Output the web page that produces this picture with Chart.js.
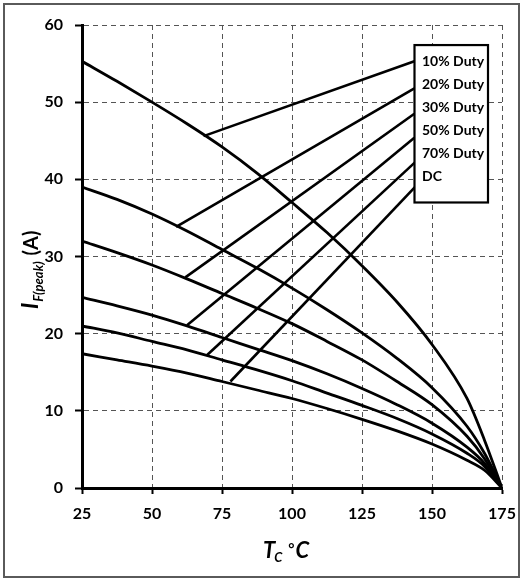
<!DOCTYPE html>
<html>
<head>
<meta charset="utf-8">
<script src="https://cdn.jsdelivr.net/npm/chart.js@4/dist/chart.umd.min.js"></script>
<style>
    html, body { margin: 0; padding: 0; background: #fff; }
    #wrap { width: 529px; height: 581px; position: relative; }
</style>
</head>
<body>
<div id="wrap"><canvas id="chart"></canvas></div>
<script>
// Case temperature (deg C) where the curves were read
const tempC = [25, 37.5, 50, 62.5, 75, 87.5, 100, 112.5, 125, 137.5, 150, 162.5, 168.75, 175];

// Peak forward current (A) per duty cycle
const duty10 = [55.3, 52.7, 50.0, 47.2, 44.2, 40.8, 37.0, 33.1, 28.8, 24.1, 18.6, 11.6, 6.2, 0];
const duty20 = [39.0, 37.4, 35.5, 33.3, 30.9, 28.5, 25.9, 23.1, 20.1, 16.8, 13.0, 8.0, 4.5, 0];
const duty30 = [32.0, 30.5, 28.9, 27.1, 25.2, 23.3, 21.3, 19.0, 16.6, 13.8, 10.8, 6.7, 3.8, 0];
const duty50 = [24.7, 23.6, 22.4, 21.0, 19.5, 18.0, 16.5, 14.8, 12.9, 10.8, 8.4, 5.3, 3.2, 0];
const duty70 = [21.0, 20.1, 19.0, 17.9, 16.6, 15.3, 13.9, 12.3, 10.7, 9.0, 7.0, 4.5, 2.8, 0];
const dutyDC = [17.4, 16.6, 15.8, 14.9, 13.8, 12.7, 11.6, 10.3, 8.9, 7.4, 5.7, 3.6, 2.3, 0];

const seriesNames = ['10% Duty', '20% Duty', '30% Duty', '50% Duty', '70% Duty', 'DC'];
const seriesValues = [duty10, duty20, duty30, duty50, duty70, dutyDC];

// Leader lines: point on the curve -> legend label
const leaderStartX = [68.4, 58.6, 61.9, 62.5, 69.6, 78.0];
const leaderStartY = [45.6, 33.85, 27.3, 21.1, 17.2, 13.8];
const leaderEndX = [143.7, 143.7, 143.7, 143.7, 144.2, 143.9];
const leaderEndY = [55.3, 51.8, 48.5, 45.4, 42.3, 39.0];

const xTicks = [25, 50, 75, 100, 125, 150, 175];
const yTicks = [0, 10, 20, 30, 40, 50, 60];

const FONT = "Lato, 'Open Sans', 'DejaVu Sans', sans-serif";

const datasets = [];
seriesValues.forEach((vals, i) => {
    datasets.push({
        label: seriesNames[i],
        data: tempC.map((t, k) => ({ x: t, y: vals[k] })),
        borderColor: '#000',
        borderWidth: 2.8,
        pointRadius: 0,
        fill: false,
        cubicInterpolationMode: 'monotone'
    });
});
seriesNames.forEach((name, i) => {
    datasets.push({
        label: name + ' leader',
        data: [
            { x: leaderStartX[i], y: leaderStartY[i] },
            { x: leaderEndX[i], y: leaderEndY[i] }
        ],
        borderColor: '#000',
        borderWidth: 2.6,
        pointRadius: 0,
        fill: false,
        tension: 0
    });
});

// Frame, axis titles and the boxed legend
const decorPlugin = {
    id: 'decor',
    beforeDraw(chart) {
        const ctx = chart.ctx;
        ctx.save();
        ctx.fillStyle = '#fff';
        ctx.fillRect(0, 0, chart.width, chart.height);
        ctx.strokeStyle = '#5a5a5a';
        ctx.lineWidth = 2;
        ctx.strokeRect(4, 4, 515, 573);
        ctx.restore();
    },
    afterDraw(chart, args, opts) {
        const ctx = chart.ctx;
        const xs = chart.scales.x, ys = chart.scales.y;

        // legend box
        const l = xs.getPixelForValue(opts.box.xMin);
        const r = xs.getPixelForValue(opts.box.xMax);
        const t = ys.getPixelForValue(opts.box.yMax);
        const b = ys.getPixelForValue(opts.box.yMin);
        ctx.save();
        ctx.fillStyle = '#fff';
        ctx.fillRect(l, t, r - l, b - t);
        ctx.strokeStyle = '#000';
        ctx.lineWidth = 2.2;
        ctx.strokeRect(l, t, r - l, b - t);
        ctx.fillStyle = '#000';
        ctx.font = 'bold 14px ' + FONT;
        ctx.textBaseline = 'middle';
        ctx.textAlign = 'left';
        seriesNames.forEach((name, i) => {
            ctx.fillText(name, l + 7.5, t + 16.7 + i * 22.9);
        });
        ctx.restore();

        // x title: T_C °C
        ctx.save();
        ctx.fillStyle = '#000';
        ctx.textBaseline = 'alphabetic';
        ctx.textAlign = 'left';
        let x = 263, y = 558;
        ctx.font = 'italic bold 22px ' + FONT;
        ctx.fillText('T', x, y);
        x += ctx.measureText('T').width - 1;
        ctx.font = 'italic bold 13px ' + FONT;
        ctx.fillText('C', x, y + 4);
        x += ctx.measureText('C').width + 6;
        ctx.font = 'bold 15px ' + FONT;
        ctx.fillText('°', x, y - 4);
        x += ctx.measureText('°').width + 1;
        ctx.font = 'italic bold 22px ' + FONT;
        ctx.fillText('C', x, y);
        ctx.restore();

        // y title: I_F(peak) (A)
        ctx.save();
        ctx.translate(38, 309);
        ctx.rotate(-Math.PI / 2);
        ctx.fillStyle = '#000';
        ctx.textBaseline = 'alphabetic';
        ctx.textAlign = 'left';
        let p = 0;
        ctx.font = 'italic bold 22px ' + FONT;
        ctx.fillText('I', p, 0);
        p += ctx.measureText('I').width + 1;
        ctx.font = 'italic bold 13px ' + FONT;
        ctx.fillText('F(peak)', p, 5);
        p += ctx.measureText('F(peak)').width + 6;
        ctx.font = 'bold 20px ' + FONT;
        ctx.fillText('(A)', p, 0);
        ctx.restore();
    }
};

const ctx = document.getElementById('chart').getContext('2d');
new Chart(ctx, {
    type: 'line',
    data: { datasets: datasets },
    plugins: [decorPlugin],
    options: {
        responsive: true,
        maintainAspectRatio: false,
        animation: false,
        events: [],
        layout: { padding: { left: 0, top: 25, right: 27, bottom: 0 } },
        plugins: {
            legend: { display: false },
            tooltip: { enabled: false },
            decor: { box: { xMin: 143.75, xMax: 170, yMin: 37.0, yMax: 57.4 } }
        },
        scales: {
            x: {
                type: 'linear',
                min: 25,
                max: 175,
                afterBuildTicks: s => { s.ticks = xTicks.map(v => ({ value: v })); },
                afterFit: s => { s.height = 93; },
                ticks: {
                    color: '#000',
                    padding: 10,
                    maxRotation: 0,
                    font: { family: FONT, size: 16, weight: 'bold' }
                },
                grid: {
                    color: '#555',
                    lineWidth: 1,
                    drawTicks: true,
                    tickLength: 6,
                    tickColor: '#000',
                    tickWidth: 2,
                    tickBorderDash: []
                },
                border: { display: true, color: '#000', width: 3, dash: [5, 4] }
            },
            y: {
                type: 'linear',
                min: 0,
                max: 60,
                afterBuildTicks: s => { s.ticks = yTicks.map(v => ({ value: v })); },
                afterFit: s => { s.width = 82; },
                ticks: {
                    color: '#000',
                    padding: 12,
                    font: { family: FONT, size: 16, weight: 'bold' }
                },
                grid: {
                    color: '#555',
                    lineWidth: 1,
                    drawTicks: true,
                    tickLength: 7,
                    tickColor: '#000',
                    tickWidth: 2,
                    tickBorderDash: []
                },
                border: { display: true, color: '#000', width: 3, dash: [5, 4] }
            }
        }
    }
});
</script>
</body>
</html>
